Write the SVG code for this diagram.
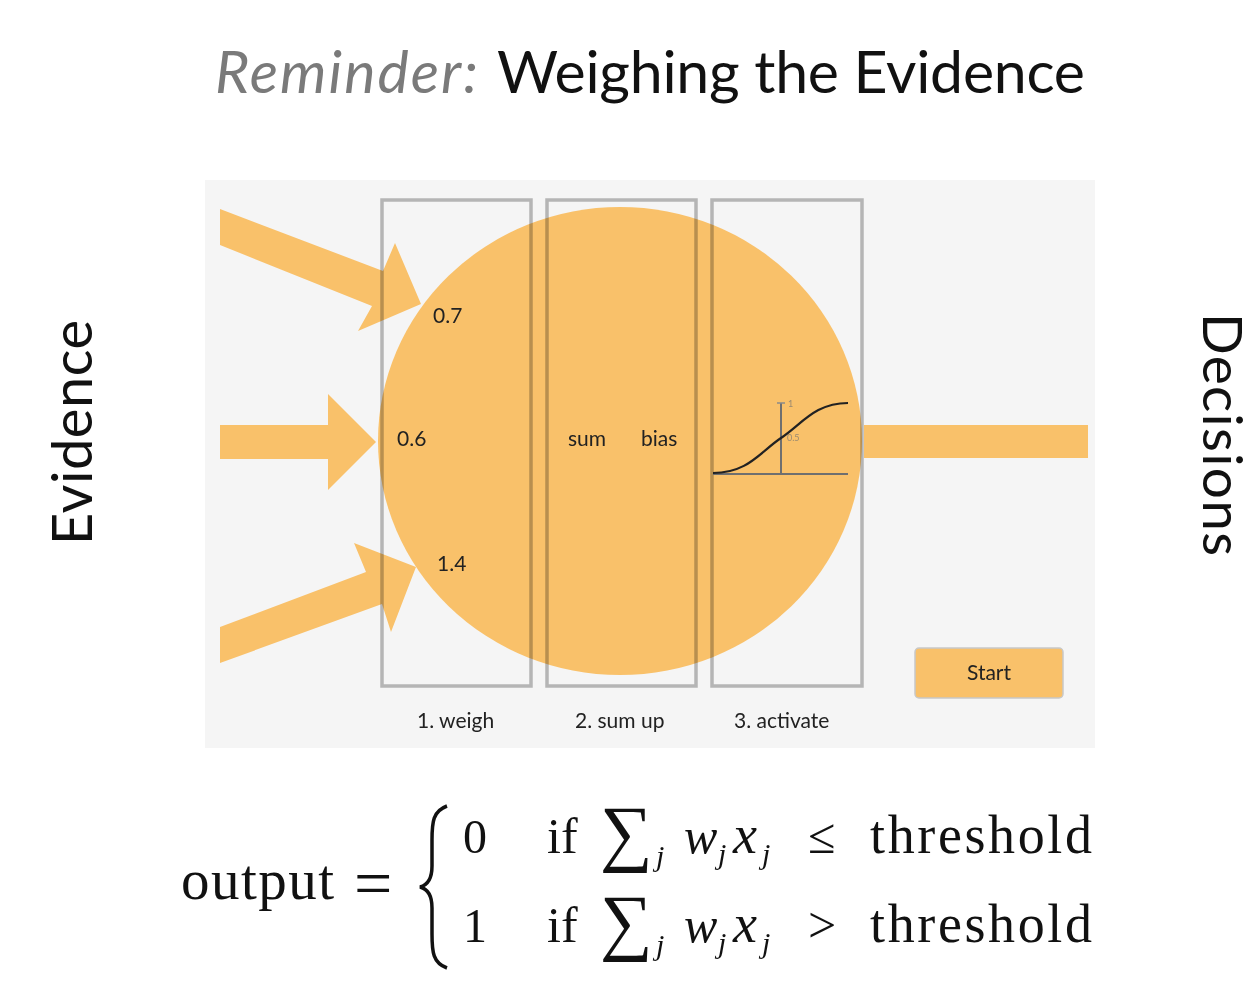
<svg xmlns="http://www.w3.org/2000/svg" width="1258" height="991" viewBox="0 0 1258 991">
<style>
.sans{font-family:Lato,"Liberation Sans",sans-serif}
.lbl{font-family:Lato,"Liberation Sans",sans-serif;font-size:21px;fill:#222}
.orange{fill:#f9c16a}
.box{fill:none;stroke:#bdbdbd;stroke-width:3.5;mix-blend-mode:multiply}
.math{font-family:"Liberation Serif","DejaVu Serif",serif;fill:#111}
.it{font-style:italic}
</style>
<rect x="0" y="0" width="1258" height="991" fill="#ffffff"/>
<g id="title">
<text class="sans" x="215" y="93" font-size="59" font-style="italic" fill="#7a7a7a" textLength="263">Reminder:</text>
<text class="sans" x="497" y="93" font-size="59" fill="#111" textLength="588">Weighing the Evidence</text>
</g>
<g id="evidence-label">
<text class="sans" transform="translate(92,545) rotate(-90)" font-size="56" fill="#111" textLength="225">Evidence</text>
</g>
<g id="decisions-label">
<text class="sans" transform="translate(1203,313) rotate(90)" font-size="55" fill="#111" textLength="243">Decisions</text>
</g>
<g id="panel">
<rect x="205" y="180" width="890" height="568" fill="#f5f5f5"/>
</g>
<g id="neuron">
<ellipse class="orange" cx="620" cy="441" rx="242" ry="234"/>
</g>
<g id="connectors">
<polygon class="orange" points="220,209 383,271 395,243 421,304 358,331 372,306 220,245"/>
<polygon class="orange" points="220,425 328,425 328,394 376,442 328,490 328,459 220,459"/>
<polygon class="orange" points="220,627 366,572 354,543 416,567 391,632 382,604 220,663"/>
<rect class="orange" x="864" y="425" width="224" height="33"/>
</g>
<g id="step-weigh">
<rect class="box" x="382" y="200" width="149" height="486"/>
<text class="lbl" x="417" y="728">1. weigh</text>
<text class="lbl" x="433" y="323" font-size="22">0.7</text>
<text class="lbl" x="397" y="446" font-size="22">0.6</text>
<text class="lbl" x="437" y="571" font-size="22">1.4</text>
</g>
<g id="step-sum">
<rect class="box" x="547" y="200" width="149" height="486"/>
<text class="lbl" x="575" y="728">2. sum up</text>
<text class="lbl" x="568" y="446" font-size="22">sum</text>
<text class="lbl" x="641" y="446" font-size="22">bias</text>
</g>
<g id="step-activate">
<rect class="box" x="712" y="200" width="150" height="486"/>
<text class="lbl" x="734" y="728">3. activate</text>
<line x1="713" y1="474" x2="848" y2="474" stroke="#6f6f6f" stroke-width="2"/>
<line x1="781" y1="403" x2="781" y2="474" stroke="#6f6f6f" stroke-width="2"/>
<line x1="777" y1="403" x2="785" y2="403" stroke="#8a8a8a" stroke-width="1.5"/>
<text class="sans" x="788" y="407" font-size="9" fill="#9a8a70">1</text>
<text class="sans" x="787" y="441" font-size="9" fill="#9a8a70">0.5</text>
<path d="M713,473 C748,473 760,452 781,438 C802,424 815,403 848,403" fill="none" stroke="#222" stroke-width="2.2"/>
</g>
<g id="start-button">
<rect x="915" y="648" width="148" height="50" rx="4" fill="#f9c16a" stroke="#c8c8c8" stroke-width="1.5"/>
<text class="lbl" x="989" y="680" text-anchor="middle" font-size="22">Start</text>
</g>
<g id="equation">
<text class="math" x="181" y="899" font-size="57" textLength="153">output</text>
<text class="math" x="354" y="906" font-size="68">=</text>
<path d="M447,806 C433,811 432,822 432,840 L432,866 C432,879 428,885 420,887 C428,889 432,895 432,908 L432,934 C432,952 433,963 447,968" fill="none" stroke="#111" stroke-width="3.5"/>
<text class="math" x="463" y="853" font-size="48">0</text>
<text class="math" x="547" y="853" font-size="50">if</text>
<text class="math" x="600" y="857" font-size="74" textLength="52">∑</text>
<text class="math it" x="656" y="866" font-size="30">j</text>
<text class="math it" x="684" y="853" font-size="50">w</text>
<text class="math it" x="718" y="864" font-size="30">j</text>
<text class="math it" x="733" y="853" font-size="54">x</text>
<text class="math it" x="762" y="864" font-size="30">j</text>
<text class="math" x="808" y="853" font-size="50" textLength="35">≤</text>
<text class="math" x="870" y="853" font-size="54" textLength="222">threshold</text>
<text class="math" x="463" y="942" font-size="48">1</text>
<text class="math" x="547" y="942" font-size="50">if</text>
<text class="math" x="600" y="946" font-size="74" textLength="52">∑</text>
<text class="math it" x="656" y="955" font-size="30">j</text>
<text class="math it" x="684" y="942" font-size="50">w</text>
<text class="math it" x="718" y="953" font-size="30">j</text>
<text class="math it" x="733" y="942" font-size="54">x</text>
<text class="math it" x="762" y="953" font-size="30">j</text>
<text class="math" x="808" y="942" font-size="50" textLength="35">&gt;</text>
<text class="math" x="870" y="942" font-size="54" textLength="222">threshold</text>
</g>
</svg>
